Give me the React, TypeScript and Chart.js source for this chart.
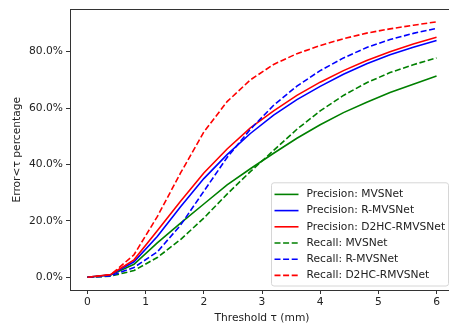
import React, { useEffect, useRef } from "react";
import { Chart, registerables } from "chart.js";

Chart.register(...registerables);

const thresholds = [0, 0.4, 0.8, 1.2, 1.6, 2.0, 2.4, 2.8, 3.2, 3.6, 4.0, 4.4, 4.8, 5.2, 5.6, 6.0];
const precisionMVSNet = [0, 0.8, 4.6, 12.2, 19.2, 26, 32.8, 38.5, 44, 49.3, 54.1, 58.4, 62.1, 65.5, 68.5, 71.4];
const precisionRMVSNet = [0, 0.9, 5.5, 14.5, 25, 35, 43.5, 51, 57.5, 63, 67.7, 72, 75.7, 78.9, 81.6, 84.0];
const precisionD2HC = [0, 1.0, 6.2, 16.5, 27, 37, 45.5, 53, 59, 64.5, 69.2, 73.3, 76.9, 80, 82.7, 85.1];
const recallMVSNet = [0, 0.4, 2.4, 7, 13.4, 21, 29.5, 37.5, 45, 52.5, 59, 64.5, 69, 72.6, 75.4, 77.8];
const recallRMVSNet = [0, 0.5, 3.5, 9, 18.5, 30.5, 42.5, 52.5, 61, 67.8, 73.3, 77.8, 81.5, 84.3, 86.5, 88.3];
const recallD2HC = [0, 0.9, 8, 21.5, 37, 51.5, 62.3, 70, 75.5, 79.3, 82.2, 84.6, 86.6, 88.1, 89.4, 90.6];

const xTickValues = [0, 1, 2, 3, 4, 5, 6];
const yTickValues = [0, 20, 40, 60, 80];

const seriesLabels = [
  "Precision: MVSNet",
  "Precision: R-MVSNet",
  "Precision: D2HC-RMVSNet",
  "Recall: MVSNet",
  "Recall: R-MVSNet",
  "Recall: D2HC-RMVSNet",
];
const seriesValues = [precisionMVSNet, precisionRMVSNet, precisionD2HC, recallMVSNet, recallRMVSNet, recallD2HC];
const seriesColors = ["#008000", "#0000ff", "#ff0000", "#008000", "#0000ff", "#ff0000"];
const seriesDashed = [false, false, false, true, true, true];

const FONT = "DejaVu Sans";
const FS = 10.7;
const DASH = [6, 2.6];
const LW = 1.6;

const framePlugin = {
  id: "frameAndLegend",
  afterDraw(chart: any) {
    const { ctx, chartArea } = chart;
    const { left, top, right, bottom } = chartArea;
    ctx.save();
    // legend
    const lgRight = right - 5.5;
    const lgBottom = bottom - 4;
    const lgW = 177;
    const rowH = 16.2;
    const lgH = 6 * rowH + 6;
    const lgLeft = lgRight - lgW;
    const lgTop = lgBottom - lgH;
    ctx.beginPath();
    const r = 2.5;
    ctx.moveTo(lgLeft + r, lgTop);
    ctx.lineTo(lgRight - r, lgTop);
    ctx.arcTo(lgRight, lgTop, lgRight, lgTop + r, r);
    ctx.lineTo(lgRight, lgBottom - r);
    ctx.arcTo(lgRight, lgBottom, lgRight - r, lgBottom, r);
    ctx.lineTo(lgLeft + r, lgBottom);
    ctx.arcTo(lgLeft, lgBottom, lgLeft, lgBottom - r, r);
    ctx.lineTo(lgLeft, lgTop + r);
    ctx.arcTo(lgLeft, lgTop, lgLeft + r, lgTop, r);
    ctx.closePath();
    ctx.fillStyle = "rgba(255,255,255,0.85)";
    ctx.fill();
    ctx.strokeStyle = "#d6d6d6";
    ctx.lineWidth = 1;
    ctx.stroke();
    ctx.font = `${FS}px "${FONT}"`;
    ctx.textBaseline = "middle";
    ctx.textAlign = "left";
    for (let i = 0; i < seriesLabels.length; i++) {
      const y = lgTop + 3 + rowH * (i + 0.5) + 0.5;
      ctx.beginPath();
      ctx.strokeStyle = seriesColors[i];
      ctx.lineWidth = LW;
      ctx.setLineDash(seriesDashed[i] ? DASH : []);
      ctx.moveTo(lgLeft + 3, y);
      ctx.lineTo(lgLeft + 27, y);
      ctx.stroke();
      ctx.setLineDash([]);
      ctx.fillStyle = "#222";
      ctx.fillText(seriesLabels[i], lgLeft + 35, y);
    }
    // frame
    ctx.strokeStyle = "#333";
    ctx.lineWidth = 1;
    ctx.strokeRect(Math.round(left) + 0.5, Math.round(top) + 0.5, Math.round(right - left), Math.round(bottom - top));
    ctx.restore();
  },
};

export default function App() {
  const ref = useRef<HTMLCanvasElement | null>(null);
  useEffect(() => {
    if (!ref.current) return;
    const datasets = seriesLabels.map((label, i) => ({
      label,
      data: thresholds.map((x, j) => ({ x, y: seriesValues[i][j] })),
      borderColor: seriesColors[i],
      backgroundColor: seriesColors[i],
      borderWidth: LW,
      borderDash: seriesDashed[i] ? DASH : [],
      pointRadius: 0,
      tension: 0,
      fill: false,
      order: seriesLabels.length - i,
    }));
    const chart = new Chart(ref.current, {
      type: "line",
      data: { datasets },
      options: {
        animation: false,
        responsive: false,
        devicePixelRatio: 1,
        layout: { padding: { top: 3, right: 6, left: 0, bottom: 0 } },
        plugins: { legend: { display: false }, tooltip: { enabled: false } },
        scales: {
          x: {
            type: "linear",
            min: -0.3,
            max: 6.3,
            afterBuildTicks: (s: any) => {
              s.ticks = xTickValues.map((v) => ({ value: v }));
            },
            afterFit: (s: any) => {
              s.height = 36;
            },
            ticks: {
              autoSkip: false,
              maxRotation: 0,
              padding: 2,
              color: "#222",
              font: { family: FONT, size: FS },
              callback: (v: any) => String(v),
            },
            grid: { drawOnChartArea: false, drawTicks: true, tickLength: 4, color: "#333" },
            border: { display: false },
            title: {
              display: true,
              text: "Threshold τ (mm)",
              color: "#222",
              font: { family: FONT, size: FS },
              padding: { top: 0, bottom: 1.5 },
            },
          },
          y: {
            type: "linear",
            min: -4.5,
            max: 95,
            afterBuildTicks: (s: any) => {
              s.ticks = yTickValues.map((v) => ({ value: v }));
            },
            afterFit: (s: any) => {
              s.width = 70;
            },
            ticks: {
              autoSkip: false,
              padding: 3,
              color: "#222",
              font: { family: FONT, size: FS },
              callback: (v: any) => Number(v).toFixed(1) + "%",
            },
            grid: { drawOnChartArea: false, drawTicks: true, tickLength: 4, color: "#333" },
            border: { display: false },
            title: {
              display: true,
              text: "Error<τ percentage",
              color: "#222",
              font: { family: FONT, size: FS },
              padding: { top: 11, bottom: 0 },
            },
          },
        },
      },
      plugins: [framePlugin],
    } as any);
    return () => chart.destroy();
  }, []);
  return (
    <div style={{ position: "fixed", left: 0, top: 0, width: 449, height: 326, overflow: "hidden", background: "#fff" }}>
      <canvas ref={ref} width={460} height={326} style={{ display: "block", width: 460, height: 326 }} />
    </div>
  );
}
